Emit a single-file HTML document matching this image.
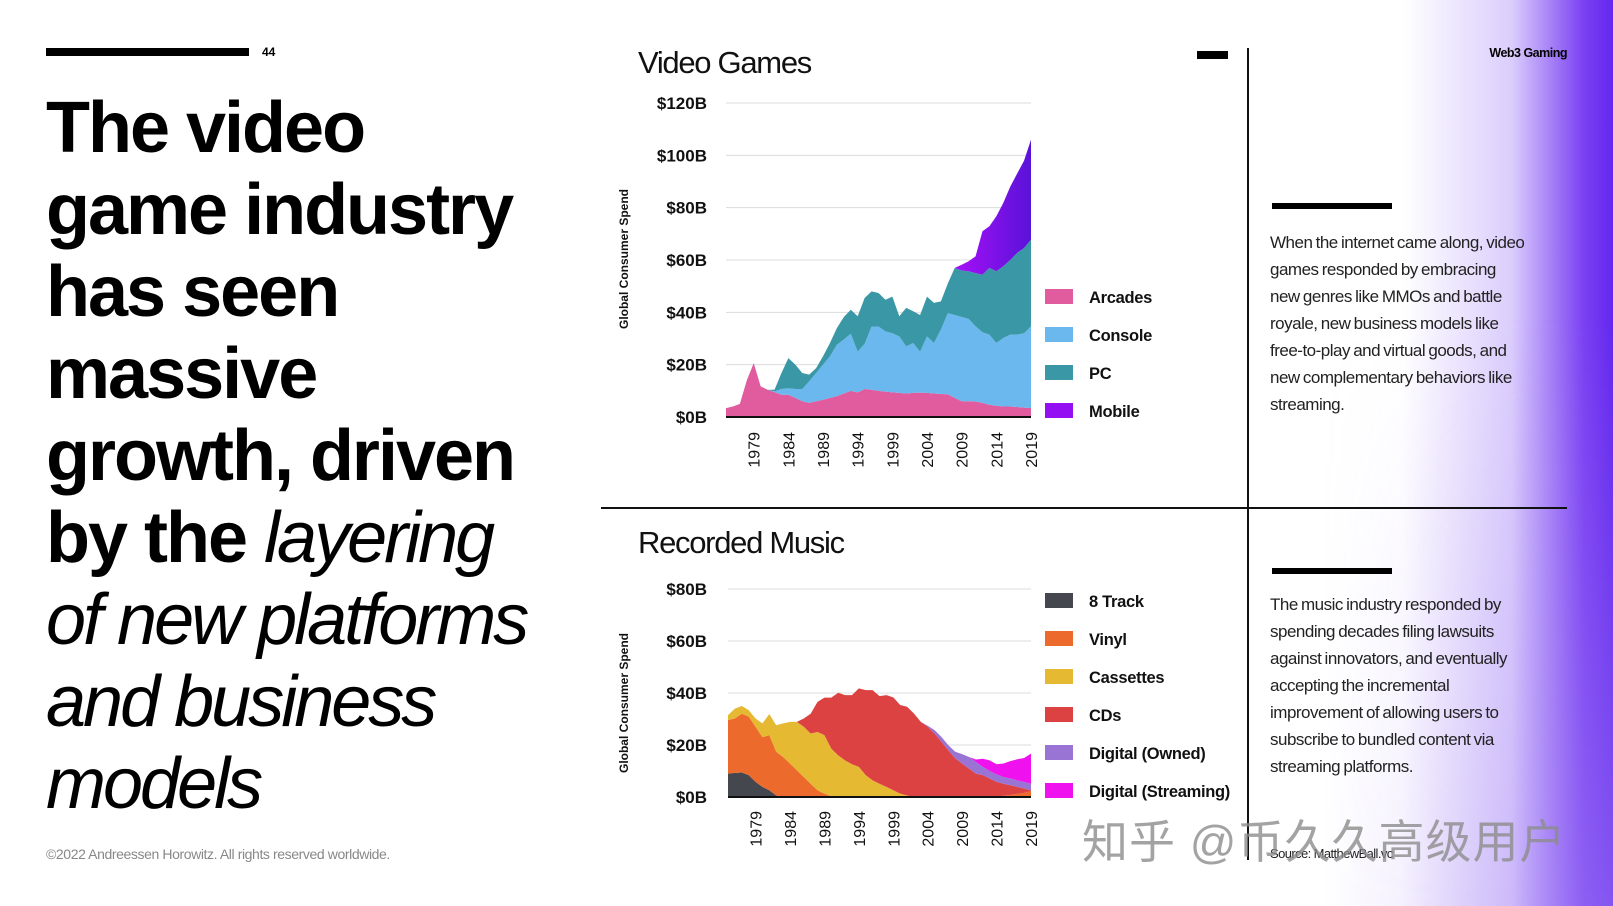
<!DOCTYPE html>
<html><head><meta charset="utf-8">
<style>
*{margin:0;padding:0;box-sizing:border-box}
body{width:1613px;height:906px;position:relative;overflow:hidden;background:#fff;font-family:"Liberation Sans",sans-serif;color:#000}
.abs{position:absolute}
#grad{left:1250px;top:0;width:363px;height:906px;background:linear-gradient(to right,rgba(255,255,255,0) 0%,rgba(255,255,255,0) 42%,rgba(190,165,250,0.55) 72%,#7a40f2 92%,#6428ee 100%)}
#grad2{left:1250px;top:0;width:363px;height:906px;background:linear-gradient(to right,rgba(170,140,245,0) 20%,rgba(170,140,245,0.45) 100%);-webkit-mask-image:linear-gradient(to bottom,transparent 35%,black 100%);mask-image:linear-gradient(to bottom,transparent 35%,black 100%)}
.head{left:46px;font-size:72px;letter-spacing:-2px;line-height:82px;white-space:nowrap}
.b{font-weight:bold}
.i{font-style:italic;font-weight:normal;letter-spacing:-3px}
.body{left:1270px;font-size:17px;letter-spacing:-0.5px;word-spacing:-1px;line-height:27px;color:#222;white-space:nowrap}
</style></head><body>
<div id="grad" class="abs"></div>
<div id="grad2" class="abs"></div>

<div class="abs" style="left:46px;top:48px;width:203px;height:8px;background:#000"></div>
<div class="abs b" style="left:262px;top:45px;font-size:12px">44</div>

<div class="abs head" style="top:87px">
<span class="b">The video</span><br><span class="b">game industry</span><br><span class="b">has seen</span><br><span class="b">massive</span><br><span class="b">growth, driven</span><br><span class="b">by the </span><span class="i">layering</span><br><span class="i">of new platforms</span><br><span class="i">and business</span><br><span class="i">models</span>
</div>
<div class="abs" style="left:46px;top:846px;font-size:14px;letter-spacing:-0.4px;color:#888">©2022 Andreessen Horowitz. All rights reserved worldwide.</div>

<div class="abs" style="left:1197px;top:51px;width:31px;height:8px;background:#000"></div>
<div class="abs" style="left:1247px;top:48px;width:2px;height:812px;background:#111"></div>
<div class="abs" style="left:601px;top:507px;width:966px;height:2px;background:#111"></div>
<div class="abs b" style="right:46px;top:46px;font-size:12.5px;letter-spacing:-0.5px">Web3 Gaming</div>

<div class="abs" style="left:1272px;top:203px;width:120px;height:6px;background:#000"></div>
<div class="abs body" style="top:229px">When the internet came along, video<br>games responded by embracing<br>new genres like MMOs and battle<br>royale, new business models like<br>free-to-play and virtual goods, and<br>new complementary behaviors like<br>streaming.</div>
<div class="abs" style="left:1272px;top:568px;width:120px;height:6px;background:#000"></div>
<div class="abs body" style="top:591px">The music industry responded by<br>spending decades filing lawsuits<br>against innovators, and eventually<br>accepting the incremental<br>improvement of allowing users to<br>subscribe to bundled content via<br>streaming platforms.</div>
<div class="abs" style="left:1270px;top:846px;font-size:13px;letter-spacing:-0.6px;color:#222">Source: MatthewBall.vc</div>

<svg class="abs" style="left:0;top:0" width="1613" height="906" id="charts">
<defs><linearGradient id="mob" gradientUnits="userSpaceOnUse" x1="960" x2="1031" y1="0" y2="0"><stop offset="0" stop-color="#a010f5"/><stop offset="1" stop-color="#5a12d8"/></linearGradient></defs>
</svg>

<div class="abs" style="left:1082px;top:806px;font-size:46px;letter-spacing:1px;color:rgba(140,140,140,0.8);font-family:'Liberation Sans','Noto Sans CJK SC',sans-serif;white-space:nowrap">知乎 @币久久高级用户</div>

<script>
const years = [];
for (let y = 1975; y <= 2019; y++) years.push(y);
const tickYears = [1979,1984,1989,1994,1999,2004,2009,2014,2019];
const vgTicks = [0,20,40,60,80,100,120];
const vgTickLabels = ["$0B","$20B","$40B","$60B","$80B","$100B","$120B"];
const vgSeriesNames = ["Arcades","Console","PC","Mobile"];
const arcades = [3.4,4,5,14,20.6,11.7,10.4,9.5,8.5,8.5,7.3,6,5.4,6,6.6,7.3,8,9,10,9.4,10.7,10.4,10,9.7,9.4,9.2,9,9.2,9.3,9.2,9,8.8,8.7,7.3,6,6,5.9,5.4,4.7,4.3,4,4,3.8,3.6,3.4];
const consoleV = [0,0,0,0,0,0,0,0.3,2.2,2.5,3.4,4.7,8.2,10.8,13.4,15.9,19.6,20.6,21.8,15.6,17.3,24.2,24.6,23,22.6,21.6,18,19.1,15.7,21.6,19.3,24.6,31,31.7,32.2,31.5,28.8,27,26.8,24,26.2,27.5,27.7,28.4,31.3];
const pc = [0,0,0,0,0,0,0,0.6,6.1,11.5,9.3,6.1,2.6,1.9,3.2,5.1,6.4,8.6,9.2,13.5,17.5,13.4,12.8,12.1,14,7.7,14.7,12.1,14,15.2,15.3,10.8,11.3,18,17.8,18.2,20.3,22,25.5,27.4,27.4,28.5,31.2,32.6,33.1];
const mobile = [0,0,0,0,0,0,0,0,0,0,0,0,0,0,0,0,0,0,0,0,0,0,0,0,0,0,0,0,0,0,0,0,0,0,2.2,3.8,6.4,16.6,15.9,21,24.2,28,30.3,33.4,38.2];

const muTicks = [0,20,40,60,80];
const muTickLabels = ["$0B","$20B","$40B","$60B","$80B"];
const muSeriesNames = ["8 Track","Vinyl","Cassettes","CDs","Digital (Owned)","Digital (Streaming)"];
const eightTrack = [9,9.3,9.4,8.4,5.8,3.9,2.6,0.6,0,0,0,0,0,0,0,0,0,0,0,0,0,0,0,0,0,0,0,0,0,0,0,0,0,0,0,0,0,0,0,0,0,0,0,0,0];
const vinyl = [20.6,20.9,22.6,22.5,21.2,19.1,21.2,16.8,15.4,12.9,10.3,7.7,5.1,2.6,1.3,0.3,0,0,0,0,0,0,0,0,0,0,0,0,0,0,0,0,0,0,0,0,0,0,0,0,0.5,0.8,1.2,1.6,2.3];
const cassettes = [1.9,3.8,3,2.5,3.2,5.3,8.1,10.2,12.9,16,18.6,19.3,19.3,22.4,22.5,18.3,16,14.1,12.6,11.6,8.4,6.4,5.1,3.9,2.6,1.3,0.6,0,0,0,0,0,0,0,0,0,0,0,0,0,0,0,0,0,0];
const cds = [0,0,0,0,0,0,0,0,0,0,0,3.2,7.6,11.6,14.4,19.6,24.1,25.1,26.6,30.2,32.7,34.7,33.7,35.3,35.7,34.1,34.1,32.1,28.9,27,24.4,21.2,18,14.8,12.9,10.9,9,8.4,7.1,5.8,4.6,3.7,2.7,1.6,0.3];
const digitalOwned = [0,0,0,0,0,0,0,0,0,0,0,0,0,0,0,0,0,0,0,0,0,0,0,0,0,0,0,0,0,0.4,1.3,1.9,1.9,2.6,3.6,4.5,4.5,3.2,2.9,2.9,2.6,2.6,2.5,2.6,2.5];
const streaming = [0,0,0,0,0,0,0,0,0,0,0,0,0,0,0,0,0,0,0,0,0,0,0,0,0,0,0,0,0,0,0,0,0,0,0,0,0.9,3.1,4.1,3.9,5.2,6.7,8.1,9.2,11.6];

const NS = "http://www.w3.org/2000/svg";
const svg = document.getElementById('charts');
function mk(tag, attrs, parent){ const e=document.createElementNS(NS,tag); for(const k in attrs) e.setAttribute(k,attrs[k]); (parent||svg).appendChild(e); return e; }

function drawChart(cfg){
  const g = mk('g',{});
  
  
  const xs = (yr)=> cfg.x0 + (yr - years[0]) / (years[years.length-1]-years[0]) * (cfg.x1 - cfg.x0);
  const ys = (v)=> cfg.yb - v / cfg.ymax * (cfg.yb - cfg.yt);
  const t = mk('text',{x:638,y:cfg.titleY,'font-size':31,'letter-spacing':-1.3,fill:'#111'},g); t.textContent=cfg.title;
  
  
  cfg.ticks.forEach((v,i)=>{
    const ln = mk('line',{x1:cfg.x0,x2:cfg.x1,y1:ys(v),y2:ys(v),stroke:'#dcdcdc','stroke-width':1},g);
    
    
    const tx = mk('text',{x:707,y:ys(v)+6,'text-anchor':'end','font-size':17,'font-weight':'bold',fill:'#111'},g);
    tx.textContent = cfg.tickLabels[i];
    
    
  });
  let cum = years.map(()=>0);
  cfg.series.forEach((s,si)=>{
    const top = cum.map((c,i)=>c+s[i]);
    let d = 'M'+xs(years[0])+','+ys(top[0]);
    for(let i=1;i<years.length;i++) d+=' L'+xs(years[i])+','+ys(top[i]);
    for(let i=years.length-1;i>=0;i--) d+=' L'+xs(years[i])+','+ys(cum[i]);
    d+='Z';
    const p = mk('path',{d:d,fill:cfg.colors[si]},g);
    
    
    cum = top;
  });
  const base = mk('line',{x1:cfg.x0,x2:cfg.x1,y1:cfg.yb,y2:cfg.yb,stroke:'#111','stroke-width':2},g);
  
  
  tickYears.forEach(yr=>{
    const x = xs(yr)+6;
    const tx = mk('text',{x:x,y:cfg.xLabY,'text-anchor':'end','font-size':16,fill:'#111',transform:'rotate(-90 '+x+' '+cfg.xLabY+')'},g);
    tx.textContent = yr;
    
    
  });
  const yt = mk('text',{x:628,y:cfg.yTitleY,'text-anchor':'middle','font-size':12,'font-weight':'bold',fill:'#111',transform:'rotate(-90 628 '+cfg.yTitleY+')'},g);
  yt.textContent = 'Global Consumer Spend';
  
  
  cfg.names.forEach((n,i)=>{
    const cy = cfg.legY0 + i*38;
    const r = mk('rect',{x:1045,y:cy-8,width:28,height:15,fill:cfg.legColors[i]},g);
    
    
    const tx = mk('text',{x:1089,y:cy+6,'font-size':16.5,'font-weight':'bold','letter-spacing':-0.3,fill:'#111'},g);
    tx.textContent = n;
    
    
  });
}

drawChart({name:'video-games-chart',title:'Video Games',titleY:73,x0:726,x1:1031,yb:417,yt:103,ymax:120,
  ticks:vgTicks,tickLabels:vgTickLabels,series:[arcades,consoleV,pc,mobile],names:vgSeriesNames,
  colors:['#e05c9e','#6bb8ee','#3a97a6','url(#mob)'],legColors:['#e05c9e','#6bb8ee','#3a97a6','#9410f2'],
  xLabY:432,yTitleY:259,legY0:297});
drawChart({name:'recorded-music-chart',title:'Recorded Music',titleY:553,x0:728,x1:1031,yb:797,yt:589,ymax:80,
  ticks:muTicks,tickLabels:muTickLabels,series:[eightTrack,vinyl,cassettes,cds,digitalOwned,streaming],names:muSeriesNames,
  colors:['#45474f','#ec6b2c','#e6b932','#dc4242','#9a74d4','#f012ee'],legColors:['#45474f','#ec6b2c','#e6b932','#dc4242','#9a74d4','#f012ee'],
  xLabY:811,yTitleY:703,legY0:601});
</script>
</body></html>
